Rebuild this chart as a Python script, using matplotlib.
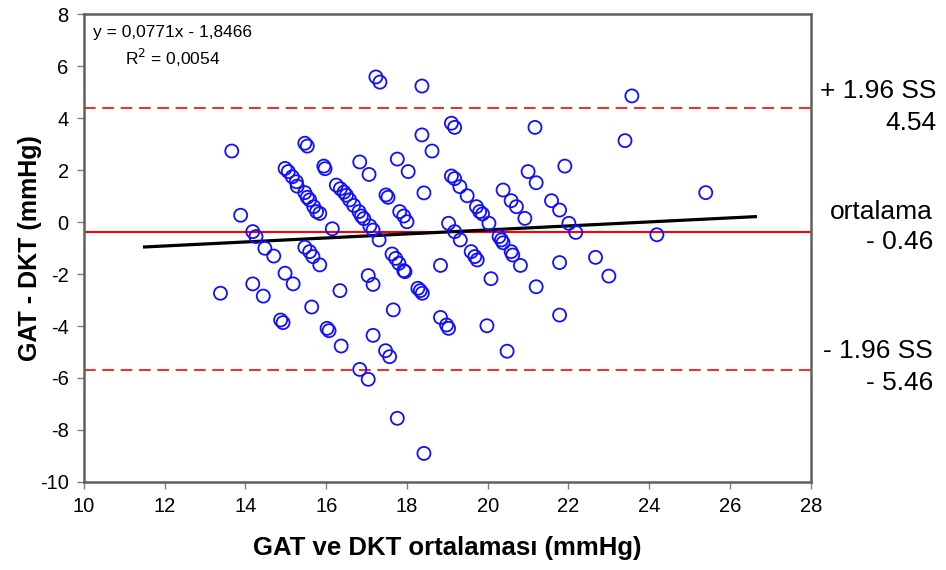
import matplotlib.pyplot as plt
import numpy as np

plt.rcParams['font.family'] = ['Liberation Sans', 'DejaVu Sans']
plt.rcParams['axes.unicode_minus'] = False

# DATA
mean_x = [17.23, 17.33, 18.37, 13.66, 15.47, 15.53, 13.88, 14.18, 14.26, 14.48,
          14.70, 16.15, 14.98, 15.06, 15.16, 15.26, 15.28, 15.47, 15.53, 15.59,
          15.69, 15.76, 15.84, 15.94, 15.97, 16.83, 17.06, 16.25, 16.35, 16.44,
          16.50, 16.58, 16.68, 16.81, 16.87, 16.93, 17.08, 17.16, 17.31, 17.76,
          18.03, 17.48, 17.53, 17.82, 17.92, 18.00, 18.37, 18.42, 15.47, 15.59,
          15.67, 15.84, 14.98, 15.18, 14.18, 13.38, 14.44, 15.64, 16.34, 14.87,
          14.93, 16.02, 16.07, 16.37, 17.04, 17.16, 17.63, 17.72, 17.80, 17.92,
          18.27, 18.33, 18.38, 17.66, 17.16, 17.47, 17.57, 16.83, 17.04, 17.76,
          18.42, 19.10, 19.18, 18.62, 21.17, 19.10, 19.18, 19.31, 19.49, 19.72,
          19.80, 19.87, 20.03, 19.03, 19.18, 19.32, 20.38, 20.58, 20.71, 20.92,
          21.00, 21.20, 21.91, 21.58, 21.78, 22.01, 22.18, 20.28, 20.34, 20.38,
          19.59, 19.68, 19.74, 20.58, 20.62, 22.67, 18.83, 20.81, 21.78, 23.00,
          20.08, 21.20, 18.83, 18.98, 19.03, 19.98, 21.78, 20.48, 23.57, 23.40,
          25.40, 24.19, 17.95]
diff_y = [5.58, 5.38, 5.23, 2.73, 3.03, 2.92, 0.26, -0.37, -0.56, -1.01,
          -1.31, -0.26, 2.06, 1.94, 1.74, 1.55, 1.38, 1.13, 0.95, 0.85,
          0.59, 0.40, 0.33, 2.15, 2.05, 2.31, 1.83, 1.42, 1.28, 1.15,
          1.03, 0.85, 0.64, 0.40, 0.23, 0.13, -0.15, -0.31, -0.69, 2.42,
          1.94, 1.04, 0.95, 0.40, 0.23, 0.01, 3.35, 1.12, -0.97, -1.14,
          -1.33, -1.65, -1.97, -2.38, -2.38, -2.74, -2.85, -3.27, -2.64, -3.77,
          -3.87, -4.09, -4.18, -4.77, -2.06, -2.40, -1.23, -1.40, -1.59, -1.87,
          -2.55, -2.64, -2.74, -3.38, -4.36, -4.95, -5.18, -5.67, -6.05, -7.55,
          -8.90, 3.80, 3.64, 2.73, 3.64, 1.77, 1.67, 1.36, 1.01, 0.59,
          0.40, 0.31, -0.05, -0.05, -0.37, -0.69, 1.23, 0.82, 0.59, 0.14,
          1.94, 1.51, 2.15, 0.82, 0.46, -0.05, -0.40, -0.56, -0.69, -0.80,
          -1.14, -1.33, -1.46, -1.14, -1.27, -1.36, -1.67, -1.67, -1.56, -2.08,
          -2.18, -2.49, -3.67, -3.96, -4.09, -3.99, -3.58, -4.97, 4.85, 3.13,
          1.13, -0.49, -1.91]

slope = 0.0771
intercept = -1.8466
fit_range = [11.5, 26.63]

mean_line = -0.40
upper_line = 4.38
lower_line = -5.70

fig = plt.figure(figsize=(9.46, 5.7), dpi=100)
ax = fig.add_axes([0.0888, 0.1544, 0.857 - 0.0888, 0.9754 - 0.1544])

ax.scatter(mean_x, diff_y, s=88, facecolors='none', edgecolors='#1010ff', linewidths=1.3, zorder=3)

fx = np.array(fit_range)
ax.plot(fx, slope * fx + intercept, color='black', lw=2.3, zorder=2)

ax.axhline(mean_line, color='red', lw=1.5, zorder=1)
ax.axhline(upper_line, color='red', lw=1.2, ls=(0, (7, 4)), zorder=1)
ax.axhline(lower_line, color='red', lw=1.2, ls=(0, (7, 4)), zorder=1)

ax.set_xlim(10, 28)
ax.set_ylim(-10, 8)
ax.set_xticks(np.arange(10, 29, 2))
ax.set_yticks(np.arange(-10, 9, 2))
ax.tick_params(direction='out', length=5, width=1, color='#808080', labelsize=14.5, pad=6)
for s in ax.spines.values():
    s.set_color('#606060')
    s.set_linewidth(1.8)

ax.set_xlabel("GAT ve DKT ortalaması (mmHg)", fontsize=18.5, fontweight='bold', labelpad=14)
ax.set_ylabel("GAT - DKT (mmHg)", fontsize=18, fontweight='bold', va='center')
ax.yaxis.set_label_coords(-0.074, 0.5)

ax.text(0.012, 0.96, "y = 0,0771x - 1,8466", transform=ax.transAxes, fontsize=12.5, va='center')
ax.text(0.057, 0.907, "R$^2$ = 0,0054", transform=ax.transAxes, fontsize=12.5, va='center')

fig.text(0.990, 1 - 107 / 570, "+ 1.96 SS\n4.54", ha='right', va='center', fontsize=19, linespacing=1.45)
fig.text(0.986, 1 - 227 / 570, "ortalama\n- 0.46", ha='right', va='center', fontsize=19, linespacing=1.35)
fig.text(0.986, 1 - 367 / 570, "- 1.96 SS\n- 5.46", ha='right', va='center', fontsize=19, linespacing=1.45)

fig.savefig("out.png", dpi=100)
